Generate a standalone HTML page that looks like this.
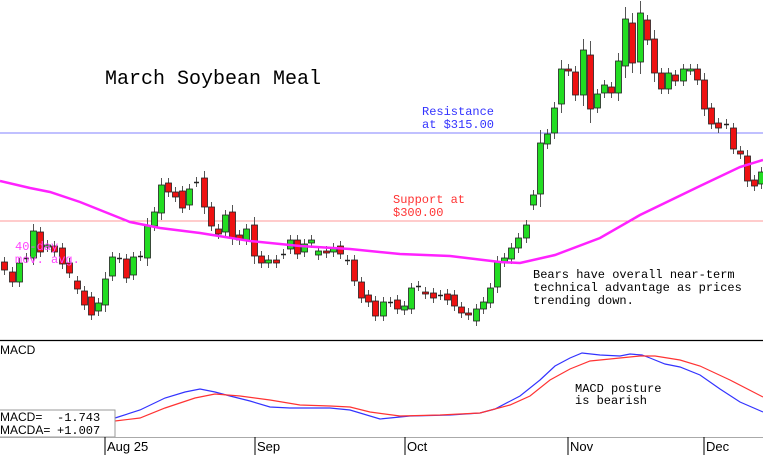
<!DOCTYPE html>
<html><head><meta charset="utf-8"><style>
html,body{margin:0;padding:0;background:#fff;width:763px;height:458px;overflow:hidden}
svg{display:block}
text{font-family:"Liberation Mono",monospace;font-size:12px}
</style></head><body>
<svg id="s" width="763" height="458" xmlns="http://www.w3.org/2000/svg">
<rect width="763" height="458" fill="#fff"/>
<line x1="0" y1="133" x2="763" y2="133" stroke="#8080ff" stroke-width="1"/>
<line x1="0" y1="221" x2="763" y2="221" stroke="#ff9a9a" stroke-width="1"/>
<g id="c"></g>
<polyline fill="none" stroke="#ff22ff" stroke-width="2.5" points="0,181 30,188 50,192 80,202 110,214 130,222 160,228 200,233 250,241 300,246 350,249 400,254 450,256 500,262 520,263 555,255 600,238 640,215 700,186 740,167 763,160"/>
<text x="105" y="84" style="font-size:20px" fill="#000">March Soybean Meal</text>
<text x="422" y="115" fill="#3333ff">Resistance</text>
<text x="422" y="128" fill="#3333ff">at $315.00</text>
<text x="393" y="203" fill="#ff3333">Support at</text>
<text x="393" y="216" fill="#ff3333">$300.00</text>
<text x="15" y="250" fill="#ff44ff">40-day</text>
<text x="15" y="263" fill="#ff44ff">mov. avg.</text>
<text x="533" y="278" fill="#000">Bears have overall near-term</text>
<text x="533" y="291" fill="#000">technical advantage as prices</text>
<text x="533" y="304" fill="#000">trending down.</text>
<line x1="0" y1="340.5" x2="763" y2="340.5" stroke="#000" stroke-width="1.2"/>
<text x="0" y="354" style="font-family:'Liberation Sans',sans-serif;font-size:12px">MACD</text>
<polyline fill="none" stroke="#3333ff" stroke-width="1.2" points="115,418 140,410 165,398 185,392 200,389 215,392 230,396 250,401 270,407 290,408 330,408 350,410 380,419 410,416 450,415 480,413 495,409 520,396 540,380 555,366 570,358 582,353 600,355 620,356 630,354 642,355 650,358 665,364 680,367 700,375 720,389 740,402 763,412"/>
<polyline fill="none" stroke="#ff3333" stroke-width="1.2" points="115,421 140,418 165,408 195,398 215,394 240,396 270,400 300,405 330,406 350,407 370,412 400,416 440,415 480,413 510,405 530,396 550,380 570,369 590,361 610,359 640,356 655,356 680,360 700,366 730,380 763,397"/>
<rect x="-1" y="410" width="116" height="27" fill="#fff" stroke="#999" stroke-width="1"/>
<text x="0" y="421" style="font-family:'Liberation Sans',sans-serif;font-size:12px">MACD=</text>
<text x="0" y="434" style="font-family:'Liberation Sans',sans-serif;font-size:12px">MACDA=</text>
<text x="57" y="421" style="font-size:12px">-1.743</text>
<text x="57" y="434" style="font-size:12px">+1.007</text>
<line x1="0" y1="437.5" x2="763" y2="437.5" stroke="#aaa" stroke-width="1"/>
<g stroke="#000" stroke-width="1"><line x1="105" y1="437" x2="105" y2="455"/><line x1="255" y1="437" x2="255" y2="455"/><line x1="405" y1="437" x2="405" y2="455"/><line x1="568" y1="437" x2="568" y2="455"/><line x1="704" y1="437" x2="704" y2="455"/></g>
<g style="font-family:'Liberation Sans',sans-serif;font-size:13px"><text x="107" y="451" style="font-family:'Liberation Sans',sans-serif;font-size:13px">Aug  25</text><text x="257" y="451" style="font-family:'Liberation Sans',sans-serif;font-size:13px">Sep</text><text x="407" y="451" style="font-family:'Liberation Sans',sans-serif;font-size:13px">Oct</text><text x="570" y="451" style="font-family:'Liberation Sans',sans-serif;font-size:13px">Nov</text><text x="706" y="451" style="font-family:'Liberation Sans',sans-serif;font-size:13px">Dec</text></g>
<text x="575" y="392" fill="#000">MACD posture</text>
<text x="575" y="404" fill="#000">is bearish</text>
</svg>
<script>
var d=[[4,'r',262,270],[12,'r',272,282],[19,'g',263,282],[26,'d',258,258],[33,'g',231,258],[40,'r',232,252],[47,'g',245,247],[54,'r',246,252],[62,'r',248,264],[69,'r',263,273],[77,'r',281,289],[84,'r',291,305],[91,'r',297,315],[98,'g',303,311],[105,'g',279,305],[112,'g',257,276],[119,'d',258,258],[126,'r',259,278],[133,'g',257,275],[140,'d',256,256],[147,'g',226,258],[154,'g',212,226],[161,'g',185,213],[168,'r',183,192],[175,'r',192,197],[182,'r',191,208],[189,'g',189,205],[196,'d',182,182],[204,'r',178,207],[211,'r',207,226],[218,'r',229,234],[225,'g',215,232],[232,'r',212,238],[239,'r',235,240],[246,'g',229,240],[254,'r',225,256],[261,'r',256,263],[268,'g',260,263],[276,'r',260,263],[283,'d',254,254],[290,'g',240,249],[297,'r',240,254],[304,'g',244,252],[311,'g',240,243],[318,'g',251,255],[326,'r',251,253],[333,'g',248,252],[340,'r',246,254],[347,'d',260,260],[354,'r',260,281],[361,'r',282,298],[368,'r',295,302],[375,'r',301,316],[383,'g',302,316],[390,'d',302,302],[397,'r',300,309],[404,'g',306,310],[411,'g',288,309],[418,'d',286,286],[425,'r',292,294],[433,'r',293,298],[440,'d',295,295],[447,'r',294,300],[454,'r',295,306],[461,'r',307,313],[468,'r',313,315],[476,'g',309,321],[483,'g',302,309],[490,'g',288,303],[497,'g',262,287],[504,'g',258,262],[511,'g',248,259],[518,'g',238,248],[526,'g',225,238],[533,'g',195,205],[540,'g',143,194],[547,'g',134,144],[554,'g',108,133],[561,'g',69,104],[568,'r',69,71],[575,'r',72,95],[583,'g',50,95],[590,'r',55,109],[597,'g',94,108],[604,'g',85,93],[611,'r',87,93],[618,'g',61,93],[625,'g',19,66],[632,'r',23,63],[640,'g',13,62],[647,'r',20,40],[654,'r',39,73],[661,'r',73,89],[668,'g',73,89],[675,'r',75,81],[683,'g',69,81],[690,'g',69,70],[697,'r',69,80],[704,'r',80,109],[711,'r',108,124],[718,'r',123,128],[726,'d',124,124],[733,'r',128,149],[740,'r',151,154],[747,'r',156,181],[754,'r',180,186],[761,'g',172,184]];
var h='';d.forEach(function(c){var x=c[0],t=c[2],b=c[3],w=Math.max(5,Math.round((b-t)*0.25));
h+='<line x1="'+(x+.5)+'" y1="'+(t-w)+'" x2="'+(x+.5)+'" y2="'+(b+w)+'" stroke="#555" stroke-width="1"/>';
if(c[1]=='d'){h+='<line x1="'+(x-2)+'" y1="'+(t+.5)+'" x2="'+(x+3)+'" y2="'+(t+.5)+'" stroke="#222" stroke-width="1.5"/>';}
else{h+='<rect x="'+(x-2.5)+'" y="'+t+'" width="6" height="'+Math.max(2,b-t)+'" fill="'+(c[1]=='g'?'#22dd22':'#ee1111')+'" stroke="#222" stroke-width="0.8"/>';}});
document.getElementById('c').innerHTML=h;
</script>
</body></html>
